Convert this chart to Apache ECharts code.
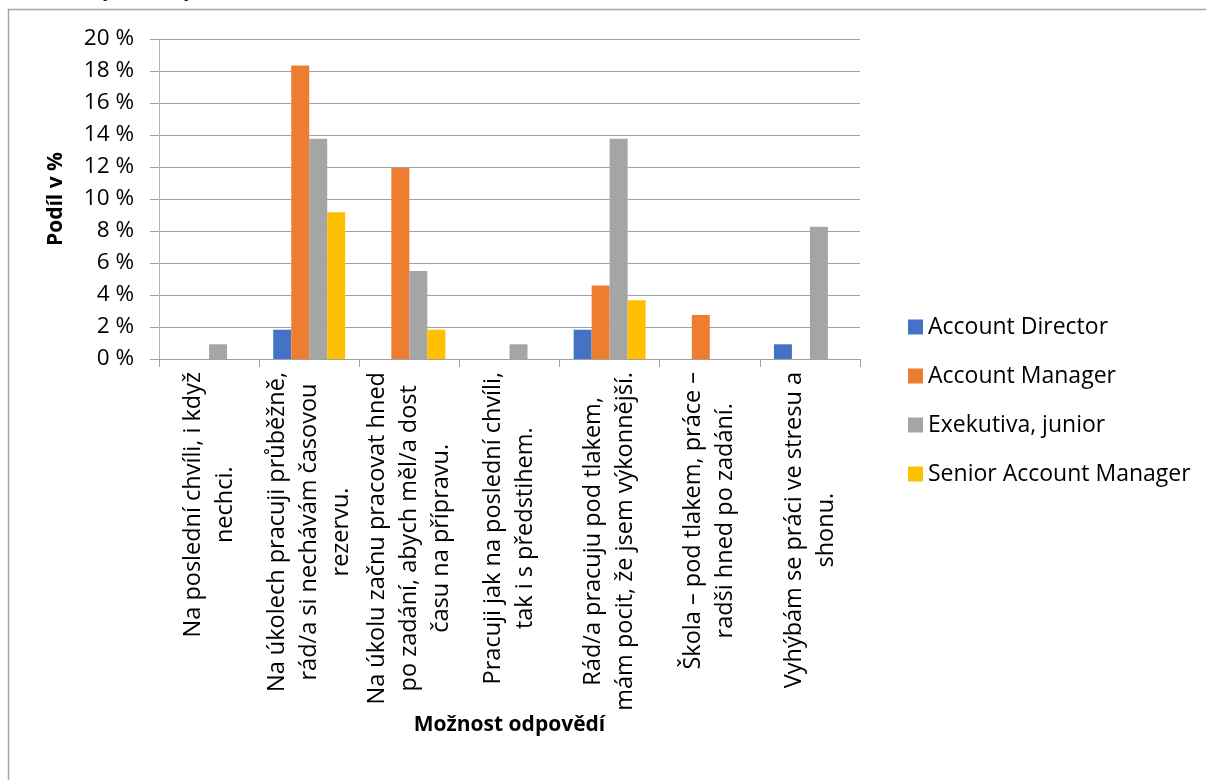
<!DOCTYPE html>
<html>
<head>
<meta charset="utf-8">
<script src="https://cdn.jsdelivr.net/npm/echarts@6/dist/echarts.min.js"></script>
<style>
  html, body { margin: 0; padding: 0; background: #fff; }
  #chart { width: 1206px; height: 780px; }
</style>
</head>
<body>
<div id="chart"></div>
<script>
// Answer options (line breaks as they wrap under the axis)
const categories = [
  'Na poslední chvíli, i když\nnechci.',
  'Na úkolech pracuji průběžně,\nrád/a si nechávám časovou\nrezervu.',
  'Na úkolu začnu pracovat hned\npo zadání, abych měl/a dost\nčasu na přípravu.',
  'Pracuji jak na poslední chvíli,\ntak i s předstihem.',
  'Rád/a pracuju pod tlakem,\nmám pocit, že jsem výkonnější.',
  'Škola – pod tlakem, práce –\nradši hned po zadání.',
  'Vyhýbám se práci ve stresu a\nshonu.'
];

// Share of respondents in % per position
const accountDirector       = [0,    1.83,  0,     0,    1.83,  0,    0.92];
const accountManager        = [0,    18.35, 11.93, 0,    4.59,  2.75, 0];
const exekutivaJunior       = [0.92, 13.76, 5.50,  0.92, 13.76, 0,    8.26];
const seniorAccountManager  = [0,    9.17,  1.83,  0,    3.67,  0,    0];

const seriesNames = ['Account Director', 'Account Manager', 'Exekutiva, junior', 'Senior Account Manager'];
const seriesColors = ['#4472C4', '#ED7D31', '#A5A5A5', '#FFC000'];
const seriesData = [accountDirector, accountManager, exekutivaJunior, seniorAccountManager];

const FONT = '"Open Sans", "Noto Sans", sans-serif';

const chart = echarts.init(document.getElementById('chart'), null, { renderer: 'canvas' });

chart.setOption({
  backgroundColor: '#ffffff',
  animation: false,
  textStyle: { fontFamily: FONT, color: '#000' },
  grid: { left: 159, right: 346, top: 39, bottom: 421, containLabel: false },
  legend: {
    orient: 'vertical',
    left: 903,
    top: 310,
    itemWidth: 15,
    itemHeight: 15,
    itemGap: 25,
    icon: 'rect',
    data: seriesNames,
    textStyle: { fontFamily: FONT, fontSize: 23, lineHeight: 24, color: '#000' }
  },
  xAxis: {
    type: 'category',
    data: categories,
    name: 'Možnost odpovědí',
    nameLocation: 'middle',
    nameGap: 345,
    nameTextStyle: { fontFamily: FONT, fontSize: 21, fontWeight: 'bold', color: '#000' },
    axisLine: { lineStyle: { color: '#a0a0a0', width: 1 } },
    axisTick: { show: true, length: 8, lineStyle: { color: '#a0a0a0' } },
    axisLabel: {
      interval: 0,
      rotate: 90,
      margin: 13,
      hideOverlap: false,
      fontFamily: FONT,
      fontSize: 23.5,
      lineHeight: 32,
      color: '#000',
      formatter: function (v) {
        return v.split('\n').map(function (l) { return '{c|' + l + '}'; }).join('\n');
      },
      rich: {
        c: { align: 'center', fontFamily: FONT, fontSize: 23.5, lineHeight: 32, color: '#000' }
      }
    }
  },
  yAxis: {
    type: 'value',
    min: 0,
    max: 20,
    interval: 2,
    name: 'Podíl v %',
    nameLocation: 'middle',
    nameRotate: 90,
    nameGap: 92,
    nameTextStyle: { fontFamily: FONT, fontSize: 21, fontWeight: 'bold', color: '#000' },
    axisLine: { show: true, lineStyle: { color: '#b4b4b4', width: 1 } },
    axisTick: { show: true, length: 9, lineStyle: { color: '#a0a0a0' } },
    axisLabel: {
      margin: 25,
      fontFamily: FONT,
      fontSize: 22.5,
      color: '#000',
      formatter: '{value} %'
    },
    splitLine: { show: true, lineStyle: { color: '#a0a0a0', width: 1 } }
  },
  series: seriesData.map(function (d, i) {
    return {
      name: seriesNames[i],
      type: 'bar',
      data: d,
      barWidth: 18,
      barGap: '0%',
      itemStyle: { color: seriesColors[i] }
    };
  }),
  graphic: [
    {
      type: 'rect',
      silent: true,
      shape: { x: 8.5, y: 9.5, width: 1400, height: 1000 },
      style: { fill: null, stroke: '#a6a6a6', lineWidth: 1.5 },
      z: 100
    },
    {
      type: 'text',
      silent: true,
      style: { text: 'p', x: 103, y: 1, verticalAlign: 'bottom', font: '18px "Liberation Serif", serif', fill: '#000' }
    },
    {
      type: 'text',
      silent: true,
      style: { text: 'p', x: 184, y: 1, verticalAlign: 'bottom', font: '18px "Liberation Serif", serif', fill: '#000' }
    }
  ]
});
</script>
</body>
</html>
